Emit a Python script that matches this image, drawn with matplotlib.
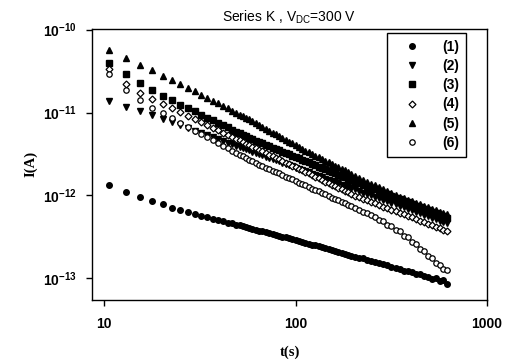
import matplotlib
matplotlib.use("Agg")
import matplotlib.pyplot as plt
import numpy as np

# time (s)
t = [10.6, 13.0, 15.4, 17.8, 20.2, 22.6, 25.0, 27.4, 29.8, 32.2, 34.6, 37.0, 39.4, 41.8, 44.2, 46.6,
     49, 51, 53, 55, 57, 59.5, 62, 64.5, 67, 70,
     73, 76, 79, 82, 85.5, 89, 92.5, 96, 100, 104,
     108, 112, 117, 122, 127, 132, 137, 143, 149, 155,
     161, 167, 174, 181, 188, 196, 205, 215, 226, 237,
     249, 261, 274, 288, 302, 317, 333, 350, 367, 385,
     404, 424, 445, 467, 490, 514, 540, 567, 590, 615]

# currents in pA (1e-12 A)
s1 = [1.33, 1.10, 0.95, 0.86, 0.78, 0.71, 0.67, 0.63, 0.60, 0.565, 0.55, 0.52, 0.50, 0.485, 0.47, 0.46,
      0.445, 0.434, 0.424, 0.415, 0.406, 0.396, 0.387, 0.377, 0.369, 0.359,
      0.350, 0.342, 0.334, 0.327, 0.319, 0.311, 0.304, 0.297, 0.290, 0.283,
      0.276, 0.270, 0.262, 0.255, 0.249, 0.242, 0.237, 0.230, 0.224, 0.219,
      0.216, 0.208, 0.200, 0.198, 0.193, 0.188, 0.183, 0.177, 0.175, 0.166,
      0.161, 0.156, 0.152, 0.147, 0.145, 0.138, 0.134, 0.129, 0.123, 0.122,
      0.118, 0.114, 0.113, 0.1075, 0.104, 0.098, 0.100, 0.092, 0.095, 0.086]
s2 = [13.8, 11.6, 10.4, 9.4, 8.44, 7.67, 7.04, 6.51, 6.07, 5.68, 5.34, 5.05, 4.78, 4.55, 4.34, 4.15,
      3.97, 3.84, 3.72, 3.60, 3.49, 3.37, 3.25, 3.15, 3.05, 2.93,
      2.83, 2.74, 2.65, 2.57, 2.48, 2.39, 2.32, 2.24, 2.17, 2.10,
      2.03, 1.97, 1.90, 1.83, 1.77, 1.71, 1.66, 1.60, 1.54, 1.49,
      1.45, 1.40, 1.35, 1.31, 1.27, 1.22, 1.18, 1.13, 1.08, 1.04,
      0.998, 0.959, 0.920, 0.882, 0.847, 0.813, 0.779, 0.747, 0.717, 0.689,
      0.661, 0.635, 0.609, 0.585, 0.561, 0.539, 0.517, 0.496, 0.479, 0.463]
s3 = [40.0, 29.6, 22.9, 18.6, 16.0, 14.0, 12.5, 11.3, 10.3, 9.42, 8.69, 8.07, 7.52, 7.04, 6.61, 6.23,
      5.89, 5.63, 5.40, 5.18, 4.98, 4.76, 4.58, 4.41, 4.25, 4.08,
      3.92, 3.77, 3.64, 3.51, 3.37, 3.24, 3.13, 3.02, 2.90, 2.80,
      2.70, 2.60, 2.50, 2.40, 2.31, 2.23, 2.15, 2.06, 1.98, 1.91,
      1.84, 1.78, 1.71, 1.65, 1.59, 1.53, 1.47, 1.40, 1.34, 1.28,
      1.23, 1.18, 1.12, 1.075, 1.03, 0.984, 0.941, 0.899, 0.861, 0.824,
      0.789, 0.755, 0.722, 0.691, 0.662, 0.633, 0.606, 0.579, 0.558, 0.538]
s4 = [33.3, 22.0, 17.0, 14.6, 12.7, 11.3, 10.1, 9.13, 8.33, 7.64, 7.06, 6.55, 6.11, 5.73, 5.38, 5.08,
      4.80, 4.60, 4.40, 4.23, 4.06, 3.88, 3.70, 3.55, 3.40, 3.24,
      3.09, 2.96, 2.83, 2.72, 2.60, 2.48, 2.38, 2.28, 2.18, 2.09,
      2.01, 1.93, 1.84, 1.75, 1.68, 1.61, 1.54, 1.47, 1.41, 1.35,
      1.29, 1.24, 1.18, 1.13, 1.09, 1.035, 0.994, 0.953, 0.911, 0.874,
      0.836, 0.801, 0.767, 0.734, 0.703, 0.673, 0.644, 0.616, 0.590, 0.566,
      0.542, 0.519, 0.497, 0.476, 0.456, 0.437, 0.418, 0.400, 0.386, 0.372]
s5 = [57.0, 45.5, 37.8, 32.2, 28.0, 24.8, 22.2, 19.9, 18.0, 16.4, 15.0, 13.9, 12.9, 12.0, 11.2, 10.5,
      9.9, 9.43, 9.01, 8.62, 8.26, 7.85, 7.47, 7.11, 6.77, 6.39,
      6.05, 5.74, 5.46, 5.20, 4.93, 4.68, 4.45, 4.24, 4.02, 3.82,
      3.64, 3.47, 3.30, 3.14, 3.00, 2.87, 2.75, 2.62, 2.50, 2.39,
      2.28, 2.19, 2.09, 2.00, 1.91, 1.82, 1.73, 1.64, 1.55, 1.47,
      1.39, 1.32, 1.25, 1.19, 1.12, 1.065, 1.01, 0.955, 0.918, 0.882,
      0.848, 0.814, 0.782, 0.751, 0.722, 0.694, 0.666, 0.639, 0.618, 0.597]
s6 = [29.3, 18.5, 14.2, 11.5, 9.8, 8.5, 7.49, 6.69, 6.03, 5.47, 5.01, 4.61, 4.26, 3.96, 3.70, 3.46,
      3.25, 3.09, 2.95, 2.82, 2.70, 2.57, 2.46, 2.36, 2.27, 2.17,
      2.07, 1.99, 1.91, 1.84, 1.76, 1.69, 1.62, 1.56, 1.49, 1.43,
      1.38, 1.33, 1.27, 1.21, 1.16, 1.12, 1.07, 1.03, 0.983, 0.943,
      0.906, 0.872, 0.836, 0.802, 0.770, 0.738, 0.704, 0.670, 0.636, 0.605,
      0.574, 0.55, 0.505, 0.49, 0.445, 0.43, 0.385, 0.37, 0.325, 0.315,
      0.275, 0.262, 0.225, 0.212, 0.185, 0.176, 0.152, 0.146, 0.128, 0.125]

labels = ["(1)", "(2)", "(3)", "(4)", "(5)", "(6)"]
x_ticks = [10, 100, 1000]
x_ticklabels = ["10", "100", "1000"]
y_ticks = [1e-13, 1e-12, 1e-11, 1e-10]
y_ticklabels = [r"10$^{\mathbf{-13}}$", r"10$^{\mathbf{-12}}$", r"10$^{\mathbf{-11}}$", r"10$^{\mathbf{-10}}$"]

plt.rcParams['font.family'] = ['Liberation Sans', 'DejaVu Sans']
plt.rcParams['mathtext.fontset'] = 'custom'
plt.rcParams['mathtext.rm'] = 'Liberation Sans'
plt.rcParams['mathtext.bf'] = 'Liberation Sans:bold'
plt.rcParams['mathtext.it'] = 'Liberation Sans:italic'

fig = plt.figure(figsize=(5.11, 3.6), dpi=100)
ax = fig.add_axes([0.180, 0.1667, 0.773, 0.7528])

styles = [
    dict(marker='o', mfc='black', mec='black', ms=4.0),
    dict(marker='v', mfc='black', mec='black', ms=4.5),
    dict(marker='s', mfc='black', mec='black', ms=3.7),
    dict(marker='D', mfc='white', mec='black', ms=3.5, mew=0.9),
    dict(marker='^', mfc='black', mec='black', ms=4.5),
    dict(marker='o', mfc='white', mec='black', ms=3.9, mew=0.9),
]
series = [s1, s2, s3, s4, s5, s6]
for vals, st, lab in zip(series, styles, labels):
    ax.plot(t, np.array(vals) * 1e-12, linestyle='none', label=lab, **st)

ax.set_xscale('log')
ax.set_yscale('log')
ax.set_xlim(8.65, 1000)
ax.set_ylim(5.47e-14, 1.02e-10)
ax.set_xticks(x_ticks)
ax.set_xticklabels(x_ticklabels, fontweight='bold', fontsize=10)
ax.set_yticks(y_ticks)
ax.set_yticklabels(y_ticklabels, fontweight='bold', fontsize=10)
ax.minorticks_off()
ax.tick_params(direction='out', length=4, width=1)
ax.tick_params(axis='x', pad=8)
ax.tick_params(axis='y', pad=7)
for sp in ax.spines.values():
    sp.set_linewidth(1.0)

ax.set_title(r"Series K , V$_{\mathrm{DC}}$=300 V", fontsize=10, pad=5)
fig.text(290 / 511, 1 - 352 / 360, "t(s)", family='Liberation Serif', fontweight='bold',
         fontsize=10.5, ha='center', va='center')
fig.text(31 / 511, 1 - 164 / 360, "I(A)", family='Liberation Serif', fontweight='bold',
         fontsize=10.5, ha='center', va='center', rotation=90)

leg = ax.legend(loc='upper right', bbox_to_anchor=(0.947, 0.985), frameon=True,
                fancybox=False, edgecolor='black', framealpha=1,
                prop={'weight': 'bold', 'size': 10}, labelspacing=0.37,
                handletextpad=0.9, borderpad=0.5, handlelength=2.6, borderaxespad=0)
leg.get_frame().set_linewidth(1.0)

fig.savefig("out.png", dpi=100)
